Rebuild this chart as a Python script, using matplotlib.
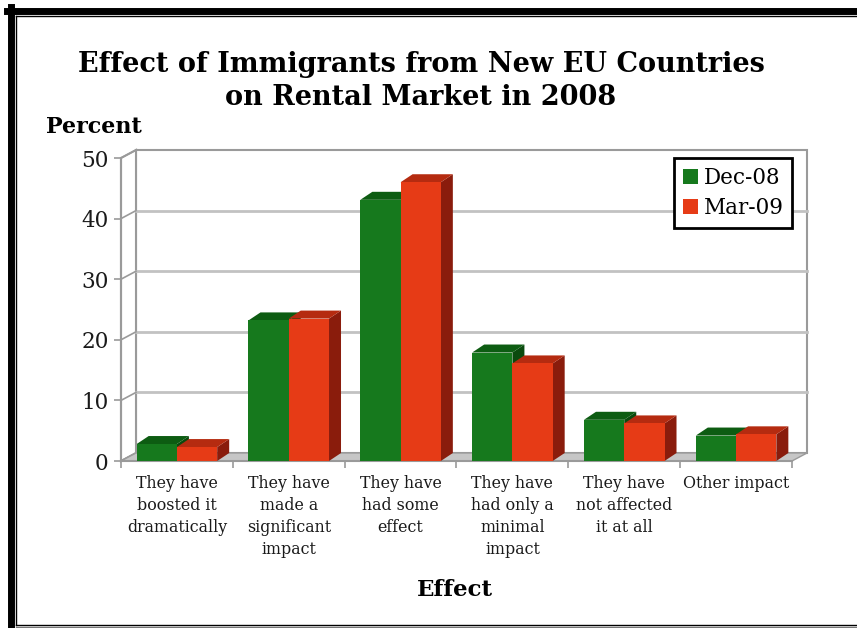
import numpy as np
import matplotlib.pyplot as plt
from matplotlib.patches import Polygon, Patch
from matplotlib.lines import Line2D

plt.rcParams['font.family'] = ['DejaVu Serif']

# survey results (percent of respondents)
categories = ["They have\nboosted it\ndramatically",
              "They have\nmade a\nsignificant\nimpact",
              "They have\nhad some\neffect",
              "They have\nhad only a\nminimal\nimpact",
              "They have\nnot affected\nit at all",
              "Other impact"]
dec08 = [2.8, 23.2, 43.1, 17.9, 6.8, 4.2]
mar09 = [2.3, 23.5, 46.0, 16.1, 6.2, 4.4]
series_names = ["Dec-08", "Mar-09"]
yticks = [0, 10, 20, 30, 40, 50]

green = ('#16791d', '#0d5c12', '#0a4a0e')   # front, top, side
red = ('#e63b16', '#b52b10', '#8a1c0c')

W, H = 857, 628
fig = plt.figure(figsize=(W / 100, H / 100), dpi=100)
fig.patch.set_facecolor('white')

# front plane of the plot box in pixels
left, right, bottom, top = 121, 792, 461, 158
ax = fig.add_axes([left / W, 1 - bottom / H, (right - left) / W, (bottom - top) / H])
x0, x1 = -0.5, 5.5
ymax = 50
ax.set_xlim(x0, x1)
ax.set_ylim(0, ymax)
ax.set_facecolor('none')

ux = (right - left) / (x1 - x0)   # pixels per category
uy = (bottom - top) / ymax        # pixels per percent
wdx, wdy = 15 / ux, 8 / uy        # wall depth
bdx, bdy = 12 / ux, 8 / uy        # bar depth

edge = '#9a9a9a'
# back wall, side wall, floor
ax.add_patch(Polygon([(x0 + wdx, wdy), (x1 + wdx, wdy), (x1 + wdx, ymax + wdy), (x0 + wdx, ymax + wdy)],
                     closed=True, fc='white', ec=edge, lw=1.5, clip_on=False, zorder=0))
ax.add_patch(Polygon([(x0, 0), (x0 + wdx, wdy), (x0 + wdx, ymax + wdy), (x0, ymax)],
                     closed=True, fc='white', ec=edge, lw=1.5, clip_on=False, zorder=0))
for v in yticks[1:-1]:
    ax.plot([x0 + wdx, x1 + wdx], [v + wdy, v + wdy], color='#c2c2c2', lw=2, clip_on=False, zorder=0.5)
for v in yticks:
    ax.plot([x0, x0 + wdx], [v, v + wdy], color=edge, lw=1.2, clip_on=False, zorder=0.5)
ax.add_patch(Polygon([(x0, 0), (x1, 0), (x1 + wdx, wdy), (x0 + wdx, wdy)],
                     closed=True, fc='#c6c6c6', ec=edge, lw=1, clip_on=False, zorder=1))

w = 0.36
x = np.arange(len(categories))


def bar3d(xc, h, cols):
    xl, xr = xc - w / 2, xc + w / 2
    ax.add_patch(Polygon([(xr, 0), (xr + bdx, bdy), (xr + bdx, h + bdy), (xr, h)],
                         closed=True, fc=cols[2], ec='none', zorder=3))
    ax.add_patch(Polygon([(xl, h), (xr, h), (xr + bdx, h + bdy), (xl + bdx, h + bdy)],
                         closed=True, fc=cols[1], ec='none', zorder=3))
    ax.bar(xc, h, width=w, color=cols[0], zorder=3)


for i in x:
    bar3d(i - w / 2, dec08[i], green)
    bar3d(i + w / 2, mar09[i], red)

for s in ['top', 'right']:
    ax.spines[s].set_visible(False)
for s in ['left', 'bottom']:
    ax.spines[s].set_color(edge)
    ax.spines[s].set_linewidth(1.5)

ax.set_yticks(yticks)
ax.tick_params(axis='y', length=5, width=1.2, color=edge, labelsize=15.5, labelcolor='#1a1a1a', pad=4)
ax.set_xticks(x)
ax.set_xticklabels(categories, fontsize=11.4, color='#1a1a1a', linespacing=1.38, va='top')
ax.set_xticks(np.arange(x0, x1 + 0.1, 1), minor=True)
ax.tick_params(axis='x', which='major', length=0, pad=10)
ax.tick_params(axis='x', which='minor', length=5, width=1.2, color=edge)

leg = ax.legend(handles=[Patch(fc=green[0]), Patch(fc=red[0])], labels=series_names,
                loc='upper right', bbox_to_anchor=(1.0, 1.0), borderaxespad=0,
                fontsize=15.5, fancybox=False, edgecolor='black', framealpha=1,
                handlelength=0.7, handleheight=0.7, handletextpad=0.25, borderpad=0.4,
                labelspacing=0.4)
leg.get_frame().set_linewidth(2)
leg.set_zorder(5)

fig.text(421 / W, 1 - 81 / H, "Effect of Immigrants from New EU Countries\non Rental Market in 2008",
         ha='center', va='center', fontsize=19.5, fontweight='bold', linespacing=1.25)
fig.text(46 / W, 1 - 127 / H, "Percent", ha='left', va='center', fontsize=16, fontweight='bold')
fig.text(455 / W, 1 - 590 / H, "Effect", ha='center', va='center', fontsize=16.5, fontweight='bold')

# page frame
fig.add_artist(Line2D([7 / W, 1], [1 - 10.5 / H] * 2, color='black', lw=5, transform=fig.transFigure))
fig.add_artist(Line2D([10.5 / W] * 2, [0, 1 - 7 / H], color='black', lw=5, transform=fig.transFigure))
fig.add_artist(Line2D([16 / W, 1], [1 - 16 / H] * 2, color='black', lw=1, transform=fig.transFigure))
fig.add_artist(Line2D([16 / W] * 2, [1 - 625 / H, 1 - 16 / H], color='black', lw=1, transform=fig.transFigure))
fig.add_artist(Line2D([16 / W, 1], [1 - 625 / H] * 2, color='black', lw=1, transform=fig.transFigure))
fig.add_artist(Line2D([16 / W, 1], [1 - 627 / H] * 2, color='#777777', lw=1, transform=fig.transFigure))

fig.savefig('out.png', dpi=100)
